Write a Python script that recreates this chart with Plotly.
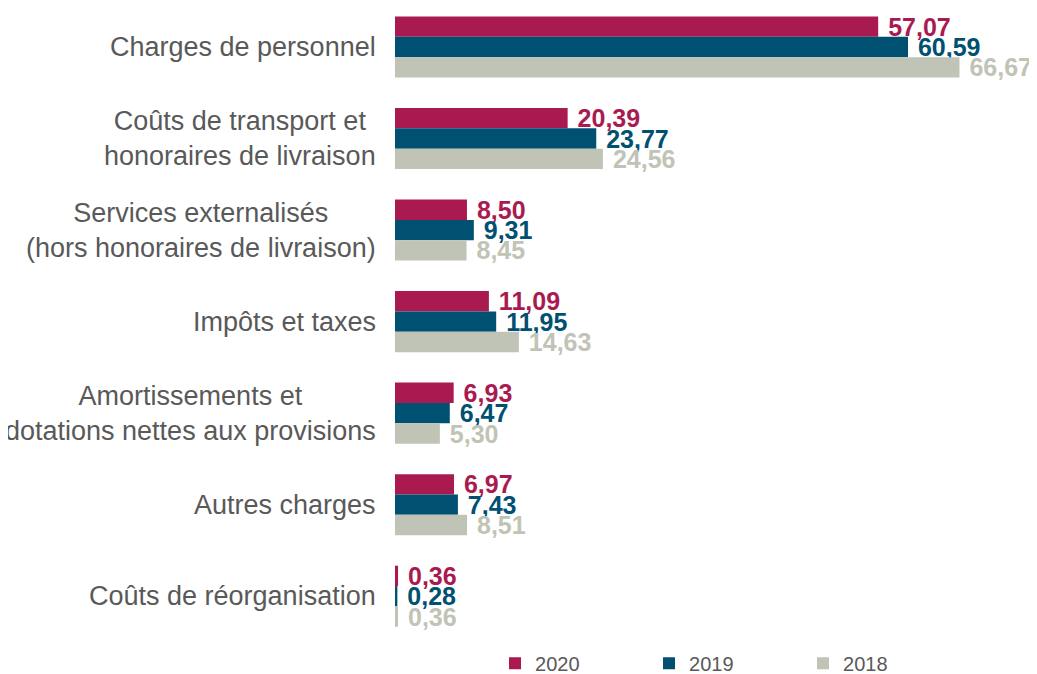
import plotly.graph_objects as go

categories = [
    "Charges de personnel",
    "Coûts de transport et<br>honoraires de livraison",
    "Services externalisés<br>(hors honoraires de livraison)",
    "Impôts et taxes",
    "Amortissements et<br>dotations nettes aux provisions",
    "Autres charges",
    "Coûts de réorganisation",
]
cat_keys = ["c%d" % i for i in range(len(categories))]

years = ["2020", "2019", "2018"]
values_2020 = [57.07, 20.39, 8.50, 11.09, 6.93, 6.97, 0.36]
values_2019 = [60.59, 23.77, 9.31, 11.95, 6.47, 7.43, 0.28]
values_2018 = [66.67, 24.56, 8.45, 14.63, 5.30, 8.51, 0.36]
colors = ["#A91B50", "#005072", "#C0C4B6"]

FONT = "Liberation Sans, Arial, sans-serif"
fig = go.Figure()
for name, vals, col in zip(years, [values_2020, values_2019, values_2018], colors):
    fig.add_trace(go.Bar(
        y=cat_keys, x=vals, name=name, orientation="h",
        marker=dict(color=col, line=dict(width=0)),
        text=["\u00a0" + ("%.2f" % v).replace(".", ",") for v in vals],
        textposition="outside",
        textfont=dict(family=FONT, size=25, color=col, weight="bold"),
        constraintext="none",
        cliponaxis=False,
    ))

for key, label in zip(cat_keys, categories):
    fig.add_annotation(
        x=-0.026, xref="paper", y=key, yref="y",
        text=label, showarrow=False, xanchor="right", yanchor="middle",
        align="center", font=dict(family=FONT, size=27, color="#595959"),
    )

fig.update_layout(
    width=1029, height=666,
    paper_bgcolor="white", plot_bgcolor="white",
    margin=dict(l=387, r=7, t=0, b=32, autoexpand=False),
    barmode="group", bargap=0.333, bargroupgap=0,
    showlegend=True,
    legend=dict(orientation="h", x=0.1575, xanchor="left", y=-0.0335, yanchor="middle",
                font=dict(family=FONT, size=20, color="#595959"),
                entrywidth=109, entrywidthmode="pixels", traceorder="normal"),
    xaxis=dict(range=[0, 75], visible=False, showgrid=False, zeroline=False),
    yaxis=dict(range=[6.5, -0.426], showticklabels=False, showgrid=False,
               zeroline=False, showline=False, ticks=""),
)
fig.write_html("out.html")
